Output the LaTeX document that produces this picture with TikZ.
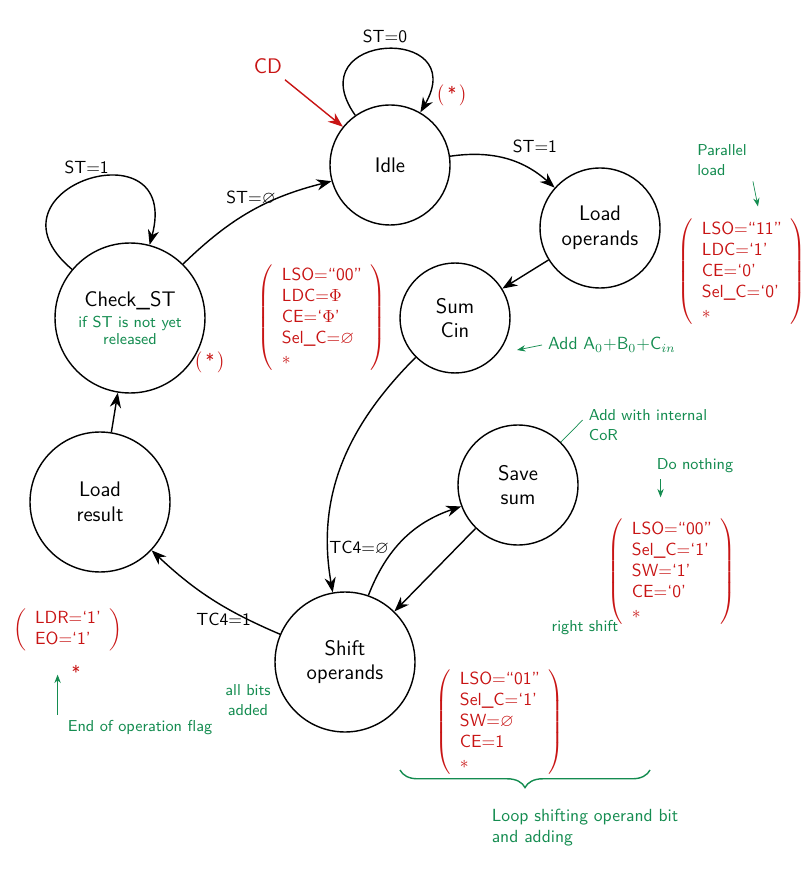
\documentclass[tikz,border=0pt]{standalone}
\usepackage{amsmath,amssymb}
\usepackage{tikz}
\usetikzlibrary{arrows.meta,positioning,calc,decorations.pathreplacing}

\definecolor{inkred}{RGB}{200,20,20}
\definecolor{inkgreen}{RGB}{20,140,80}

\tikzset{
  state/.style={draw,circle,thick,align=center,font=\sffamily\large},
  trans/.style={thick,-{Stealth[length=3mm]}},
  lbl/.style={font=\sffamily},
  outs/.style={inkred,font=\sffamily},
  note/.style={inkgreen,font=\sffamily\small,align=left}
}

\begin{document}
\begin{tikzpicture}[x=0.02cm,y=-0.02cm]
\useasboundingbox (0,0) rectangle (809,884);

% States
\node[state,minimum size=2.4cm] (idle) at (390,165) {Idle};
\node[state,minimum size=2.4cm] (load) at (600,228) {Load\\operands};
\node[state,minimum size=2.2cm] (sum) at (455,318) {Sum\\Cin};
\node[state,minimum size=2.4cm] (save) at (518,485) {Save\\sum};
\node[state,minimum size=2.8cm] (shift) at (345,662) {Shift\\operands};
\node[state,minimum size=2.8cm] (result) at (100,502) {Load\\result};
\node[state,minimum size=3cm] (check) at (130,318) {Check\_ST\\[-2pt]
  {\color{inkgreen}\small if ST is not yet}\\[-4pt] {\color{inkgreen}\small released}};

% Transitions
\draw[trans] (idle) to[out=125,in=60,looseness=4] node[above,lbl]{ST=0} (idle);
\node[outs,font=\sffamily\large] (cd) at (268,66) {CD};
\draw[trans,inkred] (cd) -- (idle);
\draw[trans] (idle) to[bend left=25] node[above right,lbl]{ST=1} (load);
\draw[trans] (load) -- (sum);
\draw[trans] (sum) to[out=225,in=100] (shift);
\draw[trans] (shift) to[bend left=25] node[left,lbl,pos=0.4]{TC4=$\varnothing$} (save);
\draw[trans] (save) -- (shift);
\draw[trans] (shift) to[bend left=10] node[below,lbl,pos=0.4]{TC4=1} (result);
\draw[trans] (result) -- (check);
\draw[trans] (check) to[bend left=15] node[above,lbl]{ST=$\varnothing$} (idle);
\draw[trans] (check) to[out=140,in=75,looseness=4] node[above,lbl]{ST=1} (check);

% Outputs
\node[outs] (idleloop) at (452,95) {$\big($\,*\,$\big)$};
\node[outs] (checkstar) at (210,362) {$\big($\,*\,$\big)$};
\node[outs] (loadout) at (742,272)
  {$\left(\begin{array}{l}\text{LSO=``11''}\\ \text{LDC=`1'}\\ \text{CE=`0'}\\ \text{Sel\_C=`0'}\\ \ast\end{array}\right)$};
\node[outs] (idleout) at (322,318)
  {$\left(\begin{array}{l}\text{LSO=``00''}\\ \text{LDC=}\Phi\\ \text{CE=`}\Phi\text{'}\\ \text{Sel\_C=}\varnothing\\ \ast\end{array}\right)$};
\node[outs] (saveout) at (672,572)
  {$\left(\begin{array}{l}\text{LSO=``00''}\\ \text{Sel\_C=`1'}\\ \text{SW=`1'}\\ \text{CE=`0'}\\ \ast\end{array}\right)$};
\node[outs] (shiftout) at (500,722)
  {$\left(\begin{array}{l}\text{LSO=``01''}\\ \text{Sel\_C=`1'}\\ \text{SW=}\varnothing\\ \text{CE=1}\\ \ast\end{array}\right)$};
\node[outs] (resultout) at (68,630)
  {$\left(\begin{array}{l}\text{LDR=`1'}\\ \text{EO=`1'}\end{array}\right)$};
\node[outs] (resultstar) at (76,672) {*};

% Comments
\node[note] (parallel) at (722,160) {Parallel\\load};
\draw[inkgreen,-{Stealth}] (parallel.south east) -- ++(5,25);
\node[note,font=\sffamily] (addcin) at (612,345) {Add A$_0$+B$_0$+C$_{in}$};
\draw[inkgreen,-{Stealth}] (addcin.west) -- ++(-25,5);
\node[note] (cor) at (648,425) {Add with internal\\CoR};
\draw[inkgreen] (cor.west) ++(0,-5) -- (save.north east);
\node[note] (nothing) at (695,466) {Do nothing};
\draw[inkgreen,-{Stealth}] (nothing.south west) ++(10,0) -- ++(0,18);
\node[note] (rshift) at (585,628) {right shift};
\node[note,align=center] (allbits) at (248,700) {all bits\\added};
\node[note] (eoflag) at (140,728) {End of operation flag};
\draw[inkgreen,-{Stealth}] (eoflag.north west) ++(-4,0) -- ++(0,-40);
\draw[inkgreen,thick,decorate,decoration={brace,amplitude=10pt,mirror}]
  (400,770) -- (650,770);
\node[note,font=\sffamily,align=left] (loopnote) at (585,828) {Loop shifting operand bit\\and adding};
\end{tikzpicture}
\end{document}
